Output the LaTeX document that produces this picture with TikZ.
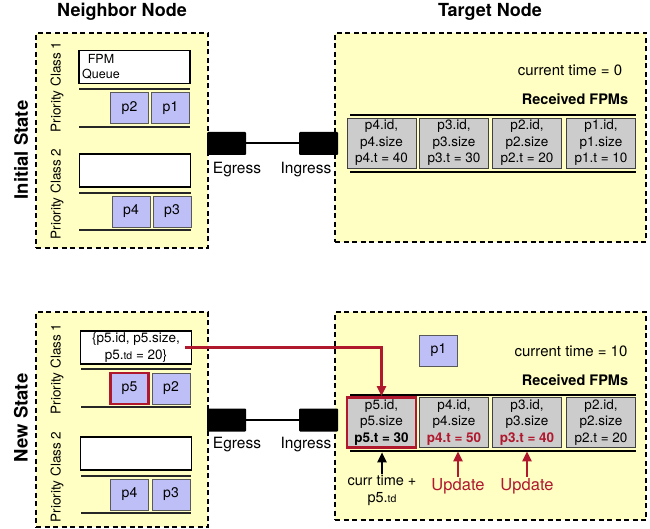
\documentclass[tikz,border=0pt]{standalone}
\usepackage{fontspec}
\setmainfont{TeX Gyre Heros}
\usetikzlibrary{arrows.meta}

\definecolor{hostyellow}{HTML}{FFFFC4}
\definecolor{pktblue}{HTML}{BFBFF7}
\definecolor{fpmgray}{HTML}{CCCCCC}
\definecolor{fpmred}{HTML}{B0182E}

\tikzset{
  hostbox/.style={draw, fill=hostyellow, line width=1.3pt, dash pattern=on 5pt off 3.5pt, inner sep=0},
  title/.style={font=\fontsize{18}{20}\selectfont\bfseries},
  statelbl/.style={rotate=90, font=\fontsize{18.5}{20}\selectfont\bfseries},
  classlbl/.style={rotate=90, font=\fontsize{13.5}{16}\selectfont},
  qhead/.style={draw, fill=white, line width=1.2pt, minimum width=111, minimum height=33, inner sep=0},
  qline/.style={line width=1.3pt, black!85},
  pkt/.style={draw=black!65, fill=pktblue, line width=0.9pt, minimum width=38, minimum height=31, inner sep=0, font=\fontsize{14}{16}\selectfont},
  port/.style={fill=black, minimum width=39, minimum height=23, inner sep=0, rounded corners=1pt},
  link/.style={line width=2pt},
  portlbl/.style={font=\fontsize{15.5}{18}\selectfont},
  infotxt/.style={font=\fontsize{15}{18}\selectfont},
  rcvtxt/.style={font=\fontsize{14.5}{17}\selectfont\bfseries},
  rowline/.style={line width=1.6pt},
  fpm/.style={draw=black!75, fill=fpmgray, line width=0.9pt, minimum width=69, minimum height=50, inner sep=0, align=center, font=\fontsize{13.5}{16.5}\selectfont},
  redarrow/.style={draw=fpmred, line width=2.4pt, -{Triangle[width=9pt,length=10pt]}},
  blkarrow/.style={draw=black, line width=2.2pt, -{Triangle[width=9pt,length=10pt]}},
}

\newcommand{\tdsub}{{\fontsize{10.5}{12}\selectfont td}}

\begin{document}
\begin{tikzpicture}[x=1pt,y=1pt]
\useasboundingbox (0,0) rectangle (650,-529);

% titles
\node[title] (nbrTitle) at (122,-12) {Neighbor Node};
\node[title] (tgtTitle) at (490,-12) {Target Node};

% ---- initial state ----
\node[statelbl] (initLbl) at (21,-150) {Initial State};
\node[hostbox, minimum width=172, minimum height=215] (nbrA) at (122,-140.5) {};
\node[hostbox, minimum width=311, minimum height=209] (tgtA) at (490.5,-137.5) {};

\node[classlbl] (clsA1) at (57,-87) {Priority Class 1};
\node[classlbl] (clsA2) at (57,-194) {Priority Class 2};

\node[qhead] (hdA1) at (134.5,-67) {};
\node[font=\fontsize{12.5}{15}\selectfont, align=center] (hdA1txt) at (101,-67) {FPM\\Queue};
\draw[qline] (79,-89) -- (190,-89) (79,-127) -- (190,-127);
\node[pkt] (p2A) at (129.5,-108) {p2};
\node[pkt] (p1A) at (170.5,-108) {p1};

\node[qhead] (hdA2) at (135,-170.5) {};
\draw[qline] (79,-193) -- (191,-193) (79,-230) -- (191,-230);
\node[pkt] (p4A) at (131,-211.5) {p4};
\node[pkt] (p3A) at (172,-211.5) {p3};

\node[port] (egA) at (226.5,-143.5) {};
\node[port] (inA) at (318.5,-143.5) {};
\draw[link] (egA) -- (inA);
\node[portlbl] (egAlbl) at (237,-170) {Egress};
\node[portlbl] (inAlbl) at (306,-170) {Ingress};

\node[infotxt] (timeA) at (570,-70) {current time = 0};
\node[rcvtxt] (rcvA) at (575,-99) {Received FPMs};
\draw[rowline] (350,-115) -- (636,-115) (350,-172) -- (636,-172);
\node[fpm] (fA4) at (381.5,-143) {p4.id,\\p4.size\\p4.t = 40};
\node[fpm] (fA3) at (454,-143) {p3.id,\\p3.size\\p3.t = 30};
\node[fpm] (fA2) at (527,-143) {p2.id,\\p2.size\\p2.t = 20};
\node[fpm] (fA1) at (601,-143) {p1.id,\\p1.size\\p1.t = 10};

% ---- new state ----
\node[statelbl] (newLbl) at (21,-418) {New State};
\node[hostbox, minimum width=172, minimum height=215] (nbrB) at (122,-419.5) {};
\node[hostbox, minimum width=311, minimum height=208] (tgtB) at (490.5,-416) {};

\node[classlbl] (clsB1) at (57,-369) {Priority Class 1};
\node[classlbl] (clsB2) at (57,-477) {Priority Class 2};

\node[qhead, align=center, font=\fontsize{13.5}{16.5}\selectfont] (hdB1) at (136,-347.5) {\{p5.id, p5.size,\\p5.\tdsub{} = 20\}};
\draw[qline] (81,-369) -- (191,-369) (81,-407) -- (191,-407);
\node[pkt, draw=fpmred, line width=2.4pt] (p5B) at (129.5,-388.5) {p5};
\node[pkt] (p2B) at (171,-388.5) {p2};

\node[qhead] (hdB2) at (136,-453.5) {};
\draw[qline] (81,-476) -- (191,-476) (81,-513) -- (191,-513);
\node[pkt] (p4B) at (129.5,-494.5) {p4};
\node[pkt] (p3B) at (171,-494.5) {p3};

\node[port] (egB) at (226.5,-420) {};
\node[port] (inB) at (318.5,-420) {};
\draw[link] (egB) -- (inB);
\node[portlbl] (egBlbl) at (237,-445) {Egress};
\node[portlbl] (inBlbl) at (306,-445) {Ingress};

\node[pkt] (p1B) at (438.5,-350.5) {p1};
\node[infotxt] (timeB) at (571,-351) {current time = 10};
\node[rcvtxt] (rcvB) at (575,-380) {Received FPMs};
\draw[rowline] (350,-395) -- (636,-395) (350,-451) -- (636,-451);
\node[fpm, draw=fpmred, line width=2.6pt] (fB5) at (381.5,-422.5) {p5.id,\\p5.size\\\textbf{p5.t = 30}};
\node[fpm] (fB4) at (454,-422.5) {p4.id,\\p4.size\\\textcolor{fpmred}{\textbf{p4.t = 50}}};
\node[fpm] (fB3) at (527,-422.5) {p3.id,\\p3.size\\\textcolor{fpmred}{\textbf{p3.t = 40}}};
\node[fpm] (fB2) at (601,-422.5) {p2.id,\\p2.size\\p2.t = 20};

% moved FPM and updates
\coordinate (hdB1out) at (185,-347.5);
\draw[redarrow] (hdB1out) -| (fB5.north);

\node[infotxt, font=\fontsize{14.5}{17}\selectfont, align=center, inner sep=1pt] (currLbl) at (382,-490) {curr time +\\p5.\tdsub};
\draw[blkarrow, shorten >=3.5pt] (currLbl.north) -- (currLbl.north |- fB5.south);
\node[infotxt, text=fpmred, font=\fontsize{16.5}{18}\selectfont, inner sep=1pt] (updB4) at (458,-486) {Update};
\node[infotxt, text=fpmred, font=\fontsize{16.5}{18}\selectfont, inner sep=1pt] (updB3) at (527,-486) {Update};
\draw[redarrow, shorten >=3.5pt] (updB4.north) -- (updB4.north |- fB4.south);
\draw[redarrow, shorten >=3.5pt] (updB3.north) -- (updB3.north |- fB3.south);
\end{tikzpicture}
\end{document}
